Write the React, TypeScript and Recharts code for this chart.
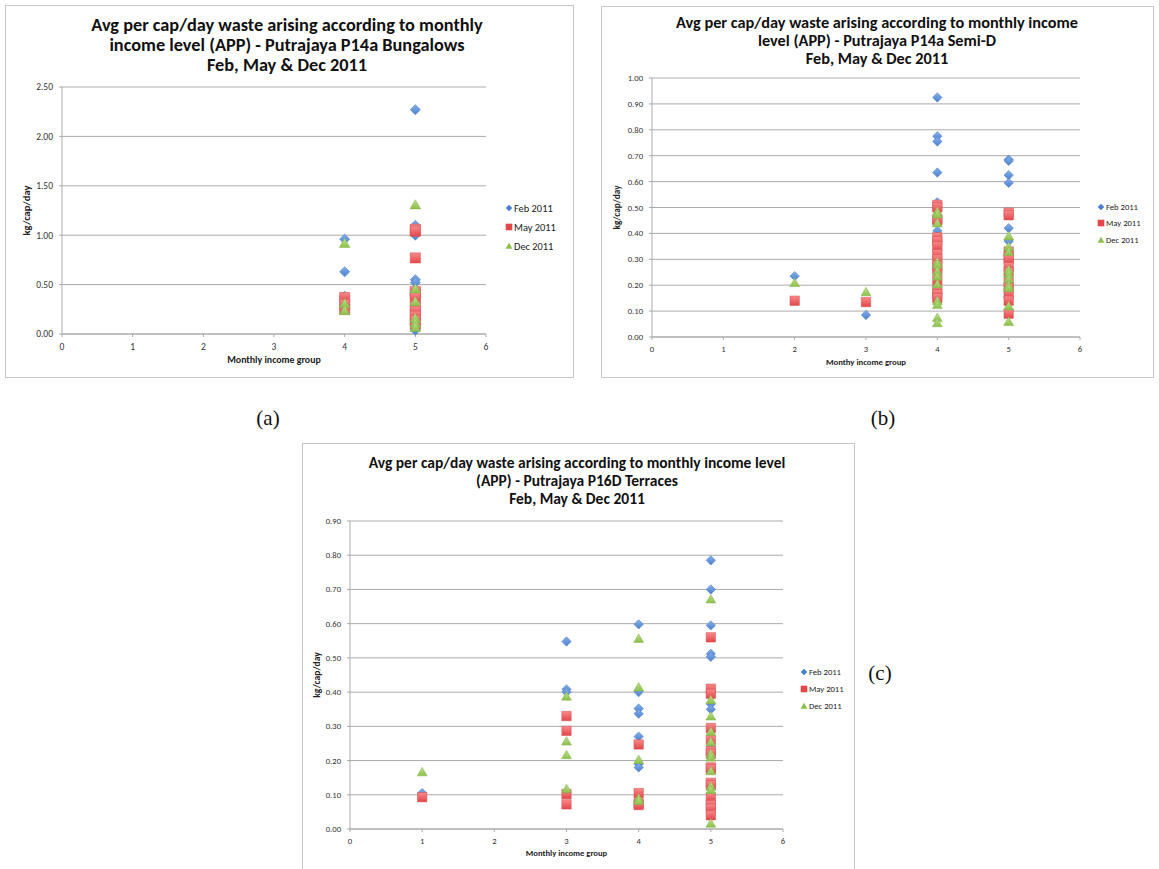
import { ScatterChart, Scatter, XAxis, YAxis, CartesianGrid, Legend } from "recharts";

// values: [income group, kg/cap/day]
const seriesNames = ["Feb 2011", "May 2011", "Dec 2011"];
const incomeTicks = [0, 1, 2, 3, 4, 5, 6];

const bungalowTicks = [0, 0.5, 1, 1.5, 2, 2.5];
const bungalowFeb = [[4, 0.96], [4, 0.63], [4, 0.38], [5, 2.27], [5, 1.1], [5, 1.0], [5, 0.55], [5, 0.52], [5, 0.04]];
const bungalowMay = [[4, 0.37], [4, 0.3], [4, 0.25], [5, 1.06], [5, 1.04], [5, 0.77], [5, 0.43], [5, 0.4], [5, 0.37], [5, 0.28], [5, 0.23], [5, 0.18], [5, 0.14], [5, 0.1]];
const bungalowDec = [[4, 0.92], [4, 0.31], [4, 0.24], [5, 1.31], [5, 0.46], [5, 0.33], [5, 0.16], [5, 0.11], [5, 0.07]];

const semiDTicks = [0, 0.1, 0.2, 0.3, 0.4, 0.5, 0.6, 0.7, 0.8, 0.9, 1.0];
const semiDFeb = [[2, 0.235], [3, 0.085], [4, 0.925], [4, 0.775], [4, 0.755], [4, 0.635], [4, 0.52], [4, 0.41], [4, 0.33], [5, 0.685], [5, 0.68], [5, 0.625], [5, 0.595], [5, 0.42], [5, 0.375], [5, 0.37], [5, 0.3]];
const semiDMay = [[2, 0.14], [3, 0.135], [4, 0.51], [4, 0.5], [4, 0.455], [4, 0.45], [4, 0.385], [4, 0.37], [4, 0.35], [4, 0.32], [4, 0.3], [4, 0.275], [4, 0.26], [4, 0.22], [4, 0.18], [4, 0.165], [4, 0.15], [5, 0.48], [5, 0.47], [5, 0.33], [5, 0.31], [5, 0.3], [5, 0.27], [5, 0.25], [5, 0.21], [5, 0.19], [5, 0.165], [5, 0.14], [5, 0.09]];
const semiDDec = [[2, 0.21], [3, 0.175], [4, 0.485], [4, 0.475], [4, 0.44], [4, 0.29], [4, 0.28], [4, 0.255], [4, 0.235], [4, 0.205], [4, 0.14], [4, 0.125], [4, 0.075], [4, 0.055], [5, 0.39], [5, 0.35], [5, 0.33], [5, 0.26], [5, 0.245], [5, 0.225], [5, 0.2], [5, 0.19], [5, 0.12], [5, 0.06]];

const terraceTicks = [0, 0.1, 0.2, 0.3, 0.4, 0.5, 0.6, 0.7, 0.8, 0.9];
const terraceFeb = [[1, 0.105], [3, 0.548], [3, 0.408], [3, 0.4], [4, 0.598], [4, 0.4], [4, 0.352], [4, 0.337], [4, 0.27], [4, 0.19], [4, 0.18], [5, 0.785], [5, 0.7], [5, 0.595], [5, 0.512], [5, 0.503], [5, 0.365], [5, 0.35], [5, 0.24]];
const terraceMay = [[1, 0.093], [3, 0.33], [3, 0.287], [3, 0.102], [3, 0.072], [4, 0.247], [4, 0.105], [4, 0.075], [4, 0.07], [5, 0.56], [5, 0.41], [5, 0.395], [5, 0.295], [5, 0.26], [5, 0.228], [5, 0.22], [5, 0.18], [5, 0.175], [5, 0.135], [5, 0.128], [5, 0.092], [5, 0.07], [5, 0.06], [5, 0.04]];
const terraceDec = [[1, 0.167], [3, 0.388], [3, 0.257], [3, 0.217], [3, 0.118], [4, 0.557], [4, 0.415], [4, 0.203], [4, 0.09], [4, 0.083], [5, 0.672], [5, 0.378], [5, 0.33], [5, 0.285], [5, 0.255], [5, 0.22], [5, 0.21], [5, 0.17], [5, 0.125], [5, 0.115], [5, 0.017]];

const FONT = "Carlito, Lato, 'Open Sans', sans-serif";
const GRID = "#ababab";
const COLORS = [
  { top: "#86b0ea", bottom: "#4a80d0", edge: "#4677c2" },
  { top: "#f88a8b", bottom: "#e4464a", edge: "#d44a4c" },
  { top: "#bde08a", bottom: "#8cc04c", edge: "#84b449" },
];

const toPoints = (rows: number[][]) => rows.map(([x, y]) => ({ x, y }));

function markerPath(kind: number, cx: number, cy: number, r: number) {
  if (kind === 0) return `M${cx},${cy - r}L${cx + r},${cy}L${cx},${cy + r}L${cx - r},${cy}Z`;
  if (kind === 1) {
    const h = r;
    return `M${cx - h},${cy - h}H${cx + h}V${cy + h}H${cx - h}Z`;
  }
  return `M${cx},${cy - r * 0.95}L${cx + r * 1.05},${cy + r * 0.85}L${cx - r * 1.05},${cy + r * 0.85}Z`;
}

function makeShape(kind: number, id: string, r: number) {
  return (props: any) => {
    const { cx, cy } = props;
    if (cx == null || cy == null) return <g />;
    return (
      <path
        d={markerPath(kind, cx, cy, r)}
        fill={`url(#${id}-m${kind})`}
        stroke={COLORS[kind].edge}
        strokeWidth={0.5}
        strokeLinejoin="round"
      />
    );
  };
}

interface PanelProps {
  id: string;
  box: { left: number; top: number; width: number; height: number };
  margin: { top: number; right: number; bottom: number; left: number };
  title: string[];
  titleSize: number;
  titleLine: number;
  titleCenter: number;
  titleTop: number;
  tickFont: number;
  axisFont: number;
  yTitleFont: number;
  markerR: number;
  yTicks: number[];
  yMax: number;
  xTitle: string;
  xTitleDy: number;
  yTitleDx: number;
  legendPos: { left: number; top: number; row: number; size: number };
  series: number[][][];
}

function ChartPanel(p: PanelProps) {
  const yLabel = (props: any) => {
    const vb = props.viewBox;
    const x = vb.x + p.yTitleDx;
    const y = vb.y + vb.height / 2;
    return (
      <text x={x} y={y} transform={`rotate(-90 ${x} ${y})`} textAnchor="middle" dominantBaseline="central"
        fontSize={p.yTitleFont} fontWeight="bold" fill="#222" fontFamily={FONT}>
        kg/cap/day
      </text>
    );
  };
  const xLabel = (props: any) => {
    const vb = props.viewBox;
    return (
      <text x={vb.x + vb.width / 2} y={vb.y + p.xTitleDy} textAnchor="middle" dominantBaseline="central"
        fontSize={p.axisFont} fontWeight="bold" fill="#222" fontFamily={FONT}>
        {p.xTitle}
      </text>
    );
  };
  const renderLegend = (props: any) => {
    const items = [...(props.payload || [])].sort(
      (a: any, b: any) => seriesNames.indexOf(a.value) - seriesNames.indexOf(b.value),
    );
    return (
      <div style={{ fontFamily: FONT, fontSize: p.legendPos.size, color: "#222" }}>
        {items.map((entry: any) => {
          const k = seriesNames.indexOf(entry.value);
          return (
            <div key={entry.value} style={{ display: "flex", alignItems: "center", height: p.legendPos.row }}>
              <svg width={8} height={8} style={{ marginRight: 1 }}>
                <path d={markerPath(k, 4, 4, 3.3)} fill={COLORS[k].bottom} />
              </svg>
              <span>{entry.value}</span>
            </div>
          );
        })}
      </div>
    );
  };
  const tick = { fontSize: p.tickFont, fill: "#333", fontFamily: FONT };

  return (
    <div style={{ position: "absolute", ...p.box }}>
      <div style={{ position: "absolute", inset: 0, border: "1px solid #c6c6c6" }} />
      <div
        style={{
          position: "absolute",
          left: p.titleCenter - 300,
          width: 600,
          top: p.titleTop,
          textAlign: "center",
          fontFamily: FONT,
          fontWeight: "bold",
          fontSize: p.titleSize,
          lineHeight: `${p.titleLine}px`,
          color: "#111",
          whiteSpace: "nowrap",
        }}
      >
        {p.title.map((line) => (
          <div key={line}>{line}</div>
        ))}
      </div>
      <div style={{ position: "absolute", left: 0, top: 0 }}>
        <ScatterChart width={p.box.width} height={p.box.height} margin={p.margin}>
          <defs>
            {COLORS.map((c, i) => (
              <linearGradient key={i} id={`${p.id}-m${i}`} x1="0" y1="0" x2="0" y2="1">
                <stop offset="0%" stopColor={c.top} />
                <stop offset="100%" stopColor={c.bottom} />
              </linearGradient>
            ))}
          </defs>
          <CartesianGrid horizontal vertical={false} stroke={GRID} />
          <XAxis
            type="number"
            dataKey="x"
            domain={[0, 6]}
            ticks={incomeTicks}
            interval={0}
            height={30}
            tick={tick}
            tickSize={3}
            tickMargin={6}
            stroke={GRID}
            label={{ content: xLabel }}
          />
          <YAxis
            type="number"
            dataKey="y"
            domain={[0, p.yMax]}
            ticks={p.yTicks}
            interval={0}
            width={34}
            tick={tick}
            tickSize={3}
            tickMargin={6}
            tickFormatter={(v: number) => v.toFixed(2)}
            stroke={GRID}
            label={{ content: yLabel }}
          />
          <Legend
            layout="vertical"
            align="center"
            verticalAlign="middle"
            content={renderLegend}
            wrapperStyle={{ left: p.legendPos.left, top: p.legendPos.top, width: 70 }}
          />
          {p.series.map((rows, i) => (
            <Scatter
              key={seriesNames[i]}
              name={seriesNames[i]}
              data={toPoints(rows)}
              shape={makeShape(i, p.id, p.markerR)}
              isAnimationActive={false}
            />
          ))}
        </ScatterChart>
      </div>
    </div>
  );
}

const captionStyle = {
  position: "absolute" as const,
  fontFamily: "'Liberation Serif', 'Times New Roman', serif",
  fontSize: 21,
  color: "#111",
  transform: "translate(-50%, -50%)",
};

export default function App() {
  return (
    <div style={{ position: "absolute", left: 0, top: 0, width: 1159, height: 869, overflow: "hidden", background: "#fff" }}>
      <ChartPanel
        id="a"
        box={{ left: 5, top: 5, width: 569, height: 373 }}
        margin={{ top: 82, right: 88, bottom: 14, left: 23 }}
        title={[
          "Avg per cap/day waste arising according to monthly",
          "income level (APP) - Putrajaya P14a Bungalows",
          "Feb, May & Dec 2011",
        ]}
        titleSize={18.3}
        titleLine={20}
        titleCenter={282}
        titleTop={10}
        tickFont={9.5}
        axisFont={9.9}
        yTitleFont={10.5}
        markerR={5.1}
        yTicks={bungalowTicks}
        yMax={2.5}
        xTitle="Monthly income group"
        xTitleDy={26}
        yTitleDx={-1.8}
        legendPos={{ left: 500, top: 193.5, row: 19, size: 10.4 }}
        series={[bungalowFeb, bungalowMay, bungalowDec]}
      />
      <ChartPanel
        id="b"
        box={{ left: 601, top: 6, width: 553, height: 372 }}
        margin={{ top: 72, right: 74, bottom: 11, left: 17 }}
        title={[
          "Avg per cap/day waste arising according to monthly income",
          "level (APP) - Putrajaya P14a Semi-D",
          "Feb, May & Dec 2011",
        ]}
        titleSize={16.3}
        titleLine={18}
        titleCenter={276}
        titleTop={7.3}
        tickFont={8.6}
        axisFont={8.7}
        yTitleFont={9.3}
        markerR={4.7}
        yTicks={semiDTicks}
        yMax={1.0}
        xTitle="Monthy income group"
        xTitleDy={25}
        yTitleDx={-1.3}
        legendPos={{ left: 496, top: 192.4, row: 16.7, size: 8.6 }}
        series={[semiDFeb, semiDMay, semiDDec]}
      />
      <ChartPanel
        id="c"
        box={{ left: 302, top: 443, width: 553, height: 440 }}
        margin={{ top: 78, right: 72, bottom: 24, left: 14 }}
        title={[
          "Avg per cap/day waste arising according to monthly income level",
          "(APP) - Putrajaya P16D Terraces",
          "Feb, May & Dec 2011",
        ]}
        titleSize={15.5}
        titleLine={18.3}
        titleCenter={275}
        titleTop={10.5}
        tickFont={8.6}
        axisFont={8.6}
        yTitleFont={9.6}
        markerR={4.7}
        yTicks={terraceTicks}
        yMax={0.9}
        xTitle="Monthly income group"
        xTitleDy={24}
        yTitleDx={0.7}
        legendPos={{ left: 498, top: 220.8, row: 17, size: 8.6 }}
        series={[terraceFeb, terraceMay, terraceDec]}
      />
      <div style={{ ...captionStyle, left: 268, top: 418 }}>(a)</div>
      <div style={{ ...captionStyle, left: 883, top: 418 }}>(b)</div>
      <div style={{ ...captionStyle, left: 880, top: 673 }}>(c)</div>
    </div>
  );
}
